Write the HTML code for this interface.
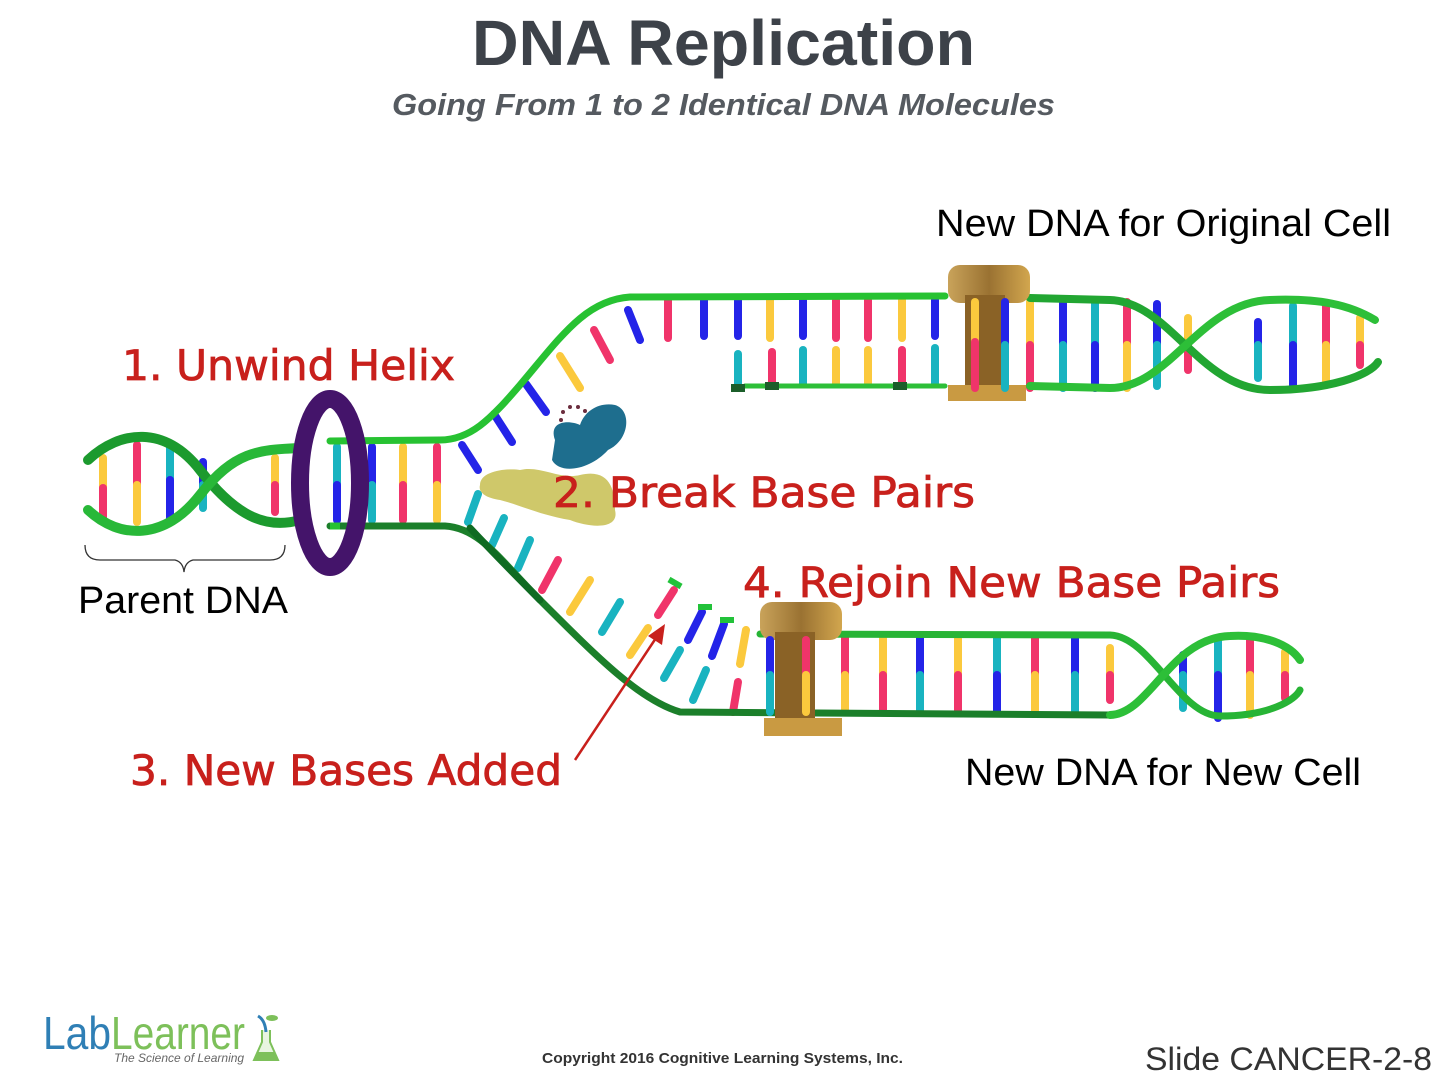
<!DOCTYPE html>
<html><head><meta charset="utf-8"><style>
html,body{margin:0;padding:0;background:#fff;}
svg{display:block}
</style></head><body>
<svg width="1446" height="1082" viewBox="0 0 1446 1082" xmlns="http://www.w3.org/2000/svg">
<defs>
<linearGradient id="gold" x1="0" y1="0" x2="1" y2="0"><stop offset="0" stop-color="#c9a35a"/><stop offset="0.5" stop-color="#9a7232"/><stop offset="1" stop-color="#d2a64e"/></linearGradient>
</defs>
<text x="472" y="65" font-family="Liberation Sans, sans-serif" font-weight="bold" font-size="64" fill="#3d4249" textLength="503" lengthAdjust="spacingAndGlyphs">DNA Replication</text>
<text x="392" y="115" font-family="Liberation Sans, sans-serif" font-weight="bold" font-style="italic" font-size="31" fill="#555a60" textLength="663" lengthAdjust="spacingAndGlyphs">Going From 1 to 2 Identical DNA Molecules</text>

<g stroke-linecap="round" stroke-width="8" fill="none">
<path d="M103,458V488" stroke="#fbc93d"/><path d="M103,488V518" stroke="#f0346a"/>
<path d="M137,445V485" stroke="#f0346a"/><path d="M137,485V522" stroke="#fbc93d"/>
<path d="M170,445V480" stroke="#19b3c0"/><path d="M170,480V522" stroke="#2424e8"/>
<path d="M203,462V485" stroke="#2424e8"/><path d="M203,485V508" stroke="#19b3c0"/>
<path d="M275,458V485" stroke="#fbc93d"/><path d="M275,485V512" stroke="#f0346a"/>
<path d="M337,447V485" stroke="#19b3c0"/><path d="M337,485V520" stroke="#2424e8"/>
<path d="M372,447V485" stroke="#2424e8"/><path d="M372,485V520" stroke="#19b3c0"/>
<path d="M403,447V485" stroke="#fbc93d"/><path d="M403,485V520" stroke="#f0346a"/>
<path d="M437,447V485" stroke="#f0346a"/><path d="M437,485V520" stroke="#fbc93d"/>
<path d="M462,445L478,470" stroke="#2424e8"/>
<path d="M494,414L512,442" stroke="#2424e8"/>
<path d="M526,384L546,412" stroke="#2424e8"/>
<path d="M560,356L580,388" stroke="#fbc93d"/>
<path d="M594,330L610,360" stroke="#f0346a"/>
<path d="M628,310L640,340" stroke="#2424e8"/>
<path d="M668,300V338" stroke="#f0346a"/><path d="M704,300V336" stroke="#2424e8"/><path d="M738,300V336" stroke="#2424e8"/>
<path d="M770,300V338" stroke="#fbc93d"/><path d="M803,300V336" stroke="#2424e8"/><path d="M836,300V338" stroke="#f0346a"/>
<path d="M868,300V338" stroke="#f0346a"/><path d="M902,300V338" stroke="#fbc93d"/><path d="M935,300V336" stroke="#2424e8"/>
<path d="M738,354V386" stroke="#19b3c0"/><path d="M772,352V384" stroke="#f0346a"/><path d="M803,350V384" stroke="#19b3c0"/>
<path d="M836,350V384" stroke="#fbc93d"/><path d="M868,350V384" stroke="#fbc93d"/><path d="M902,350V384" stroke="#f0346a"/><path d="M935,348V384" stroke="#19b3c0"/>
<path d="M975,302V342" stroke="#fbc93d"/><path d="M975,342V388" stroke="#f0346a"/>
<path d="M1005,302V345" stroke="#2424e8"/><path d="M1005,345V388" stroke="#19b3c0"/>
<path d="M1030,302V345" stroke="#fbc93d"/><path d="M1030,345V388" stroke="#f0346a"/>
<path d="M1063,302V345" stroke="#2424e8"/><path d="M1063,345V388" stroke="#19b3c0"/>
<path d="M1095,302V345" stroke="#19b3c0"/><path d="M1095,345V388" stroke="#2424e8"/>
<path d="M1127,302V345" stroke="#f0346a"/><path d="M1127,345V388" stroke="#fbc93d"/>
<path d="M1157,304V345" stroke="#2424e8"/><path d="M1157,345V386" stroke="#19b3c0"/>
<path d="M1188,318V345" stroke="#fbc93d"/><path d="M1188,345V370" stroke="#f0346a"/>
<path d="M1258,322V345" stroke="#2424e8"/><path d="M1258,345V378" stroke="#19b3c0"/>
<path d="M1293,306V345" stroke="#19b3c0"/><path d="M1293,345V388" stroke="#2424e8"/>
<path d="M1326,306V345" stroke="#f0346a"/><path d="M1326,345V385" stroke="#fbc93d"/>
<path d="M1360,318V345" stroke="#fbc93d"/><path d="M1360,345V365" stroke="#f0346a"/>
<path d="M468,522L478,494" stroke="#19b3c0"/>
<path d="M492,545L504,518" stroke="#19b3c0"/>
<path d="M518,568L530,540" stroke="#19b3c0"/>
<path d="M542,590L558,560" stroke="#f0346a"/>
<path d="M570,612L590,580" stroke="#fbc93d"/>
<path d="M602,632L620,602" stroke="#19b3c0"/>
<path d="M630,655L648,628" stroke="#fbc93d"/>
<path d="M664,678L680,650" stroke="#19b3c0"/>
<path d="M693,700L706,670" stroke="#19b3c0"/>
<path d="M733,712L738,682" stroke="#f0346a"/>
<path d="M658,615L674,590" stroke="#f0346a"/>
<path d="M688,640L702,612" stroke="#2424e8"/>
<path d="M712,656L724,624" stroke="#2424e8"/>
<path d="M740,664L746,630" stroke="#fbc93d"/>
<path d="M770,640V675" stroke="#2424e8"/><path d="M770,675V712" stroke="#19b3c0"/>
<path d="M806,640V675" stroke="#f0346a"/><path d="M806,675V712" stroke="#fbc93d"/>
<path d="M845,636V675" stroke="#f0346a"/><path d="M845,675V712" stroke="#fbc93d"/>
<path d="M883,636V675" stroke="#fbc93d"/><path d="M883,675V712" stroke="#f0346a"/>
<path d="M920,636V675" stroke="#2424e8"/><path d="M920,675V712" stroke="#19b3c0"/>
<path d="M958,636V675" stroke="#fbc93d"/><path d="M958,675V712" stroke="#f0346a"/>
<path d="M997,636V675" stroke="#19b3c0"/><path d="M997,675V712" stroke="#2424e8"/>
<path d="M1035,636V675" stroke="#f0346a"/><path d="M1035,675V712" stroke="#fbc93d"/>
<path d="M1075,636V675" stroke="#2424e8"/><path d="M1075,675V712" stroke="#19b3c0"/>
<path d="M1110,648V675" stroke="#fbc93d"/><path d="M1110,675V700" stroke="#f0346a"/>
<path d="M1183,655V675" stroke="#2424e8"/><path d="M1183,675V708" stroke="#19b3c0"/>
<path d="M1218,640V675" stroke="#19b3c0"/><path d="M1218,675V718" stroke="#2424e8"/>
<path d="M1250,640V675" stroke="#f0346a"/><path d="M1250,675V715" stroke="#fbc93d"/>
<path d="M1285,652V675" stroke="#fbc93d"/><path d="M1285,675V698" stroke="#f0346a"/>
</g>

<g fill="none" stroke-linecap="round">
<path d="M88,460 C120,430 165,425 200,470 S265,530 300,520" stroke="#1c9a2e" stroke-width="10"/>
<path d="M88,510 C120,540 165,540 200,495 S260,450 300,448" stroke="#28b838" stroke-width="10"/>
<path d="M330,441 L440,440 C470,440 490,420 520,385 C560,338 585,300 630,297 L945,296" stroke="#27c232" stroke-width="7"/>
<path d="M1030,298 L1110,300 C1170,302 1200,390 1270,390 C1330,390 1370,375 1378,362" stroke="#22a632" stroke-width="8"/>
<path d="M1030,386 L1110,388 C1170,388 1200,302 1270,300 C1320,298 1350,305 1375,320" stroke="#2dbf38" stroke-width="8"/>
<path d="M745,386 L945,386" stroke="#2dbf38" stroke-width="5"/>
<path d="M330,526 L445,526 C480,528 500,560 540,600 C600,660 640,700 680,712 L1110,715" stroke="#1b7f2a" stroke-width="7"/>
<path d="M470,528 C500,560 520,580 540,600" stroke="#0f6b22" stroke-width="7"/>
<path d="M760,634 L1110,635 C1150,636 1180,716 1220,716 C1270,716 1295,700 1300,690" stroke="#27b435" stroke-width="7"/>
<path d="M1110,715 C1150,714 1170,638 1230,636 C1265,634 1290,645 1300,660" stroke="#2dbf38" stroke-width="8"/>
</g>
<g fill="#1b5e2a">
<rect x="731" y="384" width="14" height="8"/><rect x="765" y="382" width="14" height="8"/><rect x="893" y="382" width="14" height="8"/>
</g>
<g fill="#22c23a"><rect x="668" y="580" width="14" height="6" transform="rotate(30 675 583)"/><rect x="698" y="604" width="14" height="6"/><rect x="720" y="617" width="14" height="6"/></g>

<ellipse cx="330" cy="483" rx="30" ry="84" fill="none" stroke="#44146a" stroke-width="18"/>
<path d="M330,441 L340,441 M330,526 L340,526" stroke="#27c232" stroke-width="7"/>

<path d="M555,440 C548,420 570,420 580,425 C585,410 600,402 615,405 C632,410 630,440 608,450 C590,470 560,475 552,460 Z" fill="#1e6e8e"/>
<g fill="#6b2d3e"><circle cx="563" cy="412" r="2"/><circle cx="570" cy="407" r="2"/><circle cx="578" cy="407" r="2"/><circle cx="585" cy="411" r="2"/><circle cx="561" cy="420" r="2"/></g>
<path d="M480,485 C480,470 510,468 520,470 C540,465 560,480 580,475 C610,468 615,490 615,510 C620,530 590,528 570,520 C540,515 520,505 500,500 C485,498 478,492 480,485 Z" fill="#cfc86a"/>

<g>
<rect x="948" y="265" width="82" height="38" rx="12" fill="url(#gold)"/>
<rect x="965" y="295" width="40" height="95" fill="#8a6226"/>
<rect x="948" y="385" width="78" height="16" fill="#c99a42"/>
<rect x="760" y="602" width="82" height="38" rx="12" fill="url(#gold)"/>
<rect x="775" y="632" width="40" height="90" fill="#8a6226"/>
<rect x="764" y="718" width="78" height="18" fill="#c99a42"/>
</g>
<g stroke-linecap="round" stroke-width="8">
<path d="M975,302V342" stroke="#fbc93d"/><path d="M975,342V388" stroke="#f0346a"/>
<path d="M1005,302V345" stroke="#2424e8"/><path d="M1005,345V388" stroke="#19b3c0"/>
<path d="M770,640V675" stroke="#2424e8"/><path d="M770,675V712" stroke="#19b3c0"/>
<path d="M806,640V675" stroke="#f0346a"/><path d="M806,675V712" stroke="#fbc93d"/>
</g>

<path d="M85,545 Q85,560 100,560 L175,560 Q183,562 184,572 Q185,562 193,560 L270,560 Q285,560 285,545" fill="none" stroke="#333" stroke-width="1.3"/>

<line x1="575" y1="760" x2="656" y2="638" stroke="#c8201c" stroke-width="2.5"/>
<polygon points="665,624 662,645 648,636" fill="#c8201c"/>

<g font-family="DejaVu Sans, sans-serif" fill="#c8201c" font-size="42" stroke="#c8201c" stroke-width="0.8">
<text x="122" y="380" textLength="333" lengthAdjust="spacingAndGlyphs">1. Unwind Helix</text>
<text x="553" y="507" textLength="422" lengthAdjust="spacingAndGlyphs">2. Break Base Pairs</text>
<text x="130" y="785" textLength="432" lengthAdjust="spacingAndGlyphs">3. New Bases Added</text>
<text x="743" y="597" textLength="537" lengthAdjust="spacingAndGlyphs">4. Rejoin New Base Pairs</text>
</g>
<g font-family="Liberation Sans, sans-serif" fill="#000" font-size="38">
<text x="936" y="236" textLength="455" lengthAdjust="spacingAndGlyphs">New DNA for Original Cell</text>
<text x="78" y="613" textLength="210" lengthAdjust="spacingAndGlyphs">Parent DNA</text>
<text x="965" y="785" textLength="396" lengthAdjust="spacingAndGlyphs">New DNA for New Cell</text>
</g>

<text x="43" y="1049" font-family="Liberation Sans, sans-serif" font-size="46" fill="#2f7fb5" textLength="68" lengthAdjust="spacingAndGlyphs">Lab</text>
<text x="111" y="1049" font-family="Liberation Sans, sans-serif" font-size="46" fill="#7dc05a" textLength="134" lengthAdjust="spacingAndGlyphs">Learner</text>
<text x="114" y="1062" font-family="Liberation Sans, sans-serif" font-style="italic" font-size="12" fill="#666">The Science of Learning</text>
<path d="M262,1030 L262,1042 L254,1060 L278,1060 L270,1042 L270,1030" fill="#e8f5e0" stroke="#7dc05a" stroke-width="2"/>
<path d="M257,1052 L275,1052 L278,1060 L254,1060 Z" fill="#7dc05a"/>
<path d="M258,1016 Q265,1020 266,1032" stroke="#2f7fb5" stroke-width="3" fill="none"/>
<ellipse cx="272" cy="1018" rx="6" ry="3" fill="#7dc05a"/>
<text x="542" y="1063" font-family="Liberation Sans, sans-serif" font-weight="bold" font-size="15" fill="#333" textLength="361" lengthAdjust="spacingAndGlyphs">Copyright 2016 Cognitive Learning Systems, Inc.</text>
<text x="1145" y="1070" font-family="Liberation Sans, sans-serif" font-size="32" fill="#333" textLength="287" lengthAdjust="spacingAndGlyphs">Slide CANCER-2-8</text>
</svg>
</body></html>
